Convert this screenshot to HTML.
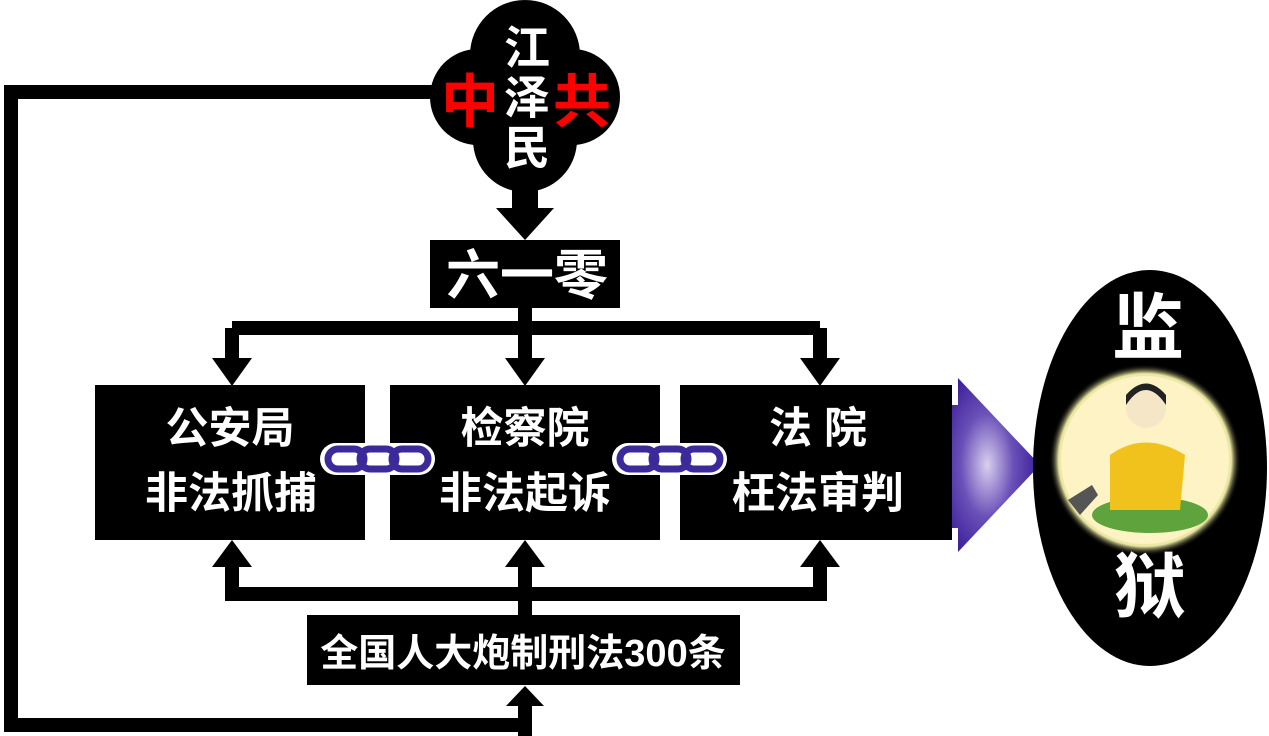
<!DOCTYPE html>
<html><head><meta charset="utf-8"><style>
html,body{margin:0;padding:0;background:#fff;width:1269px;height:736px;overflow:hidden}
svg text{font-family:"Liberation Sans","Noto Sans CJK SC",sans-serif;font-weight:bold}
</style></head><body>
<svg width="1269" height="736" viewBox="0 0 1269 736" xmlns="http://www.w3.org/2000/svg">
<defs>
<radialGradient id="pg" cx="0.4" cy="0.5" r="0.6"><stop offset="0" stop-color="#d8d0ee"/><stop offset="0.5" stop-color="#6a50b8"/><stop offset="1" stop-color="#3a1c98"/></radialGradient>
<radialGradient id="glow" cx="0.5" cy="0.5" r="0.5"><stop offset="0.82" stop-color="#fdf3c4"/><stop offset="0.9" stop-color="#e8e6a0"/><stop offset="1" stop-color="#000" stop-opacity="0"/></radialGradient>
</defs>
<path d="M440 92 H11 V725 H525" fill="none" stroke="#000" stroke-width="14"/>
<rect x="518" y="700" width="14" height="36" fill="#000"/>
<polygon points="506,706 544,706 525,686" fill="#000"/>
<g fill="#000">
<circle cx="525" cy="55" r="55"/><circle cx="478" cy="97" r="48"/><circle cx="572" cy="97" r="48"/><circle cx="525" cy="140" r="52"/><circle cx="525" cy="95" r="62"/>
</g>
<rect x="512" y="180" width="26" height="30" fill="#000"/>
<polygon points="496,208 554,208 525,240" fill="#000"/>
<text x="470" y="122" font-size="58" fill="#f00" text-anchor="middle">中</text>
<text x="582" y="122" font-size="58" fill="#f00" text-anchor="middle">共</text>
<text x="527" y="64" font-size="46" fill="#fff" text-anchor="middle">江</text>
<text x="527" y="114" font-size="46" fill="#fff" text-anchor="middle">泽</text>
<text x="527" y="164" font-size="46" fill="#fff" text-anchor="middle">民</text>
<rect x="430" y="240" width="190" height="68" fill="#000"/>
<text x="527" y="294" font-size="54" fill="#fff" text-anchor="middle">六一零</text>
<path d="M525 308 V328 M232 328 H820 M232 328 V360 M525 328 V360 M820 328 V360" fill="none" stroke="#000" stroke-width="14"/>
<polygon points="212,358 252,358 232,386" fill="#000"/>
<polygon points="505,358 545,358 525,386" fill="#000"/>
<polygon points="800,358 840,358 820,386" fill="#000"/>
<rect x="95" y="385" width="270" height="155" fill="#000"/>
<rect x="390" y="385" width="270" height="155" fill="#000"/>
<rect x="680" y="385" width="272" height="155" fill="#000"/>
<g font-size="43" fill="#fff" text-anchor="middle">
<text x="230" y="443">公安局</text><text x="231" y="508">非法抓捕</text>
<text x="525" y="443">检察院</text><text x="525" y="508">非法起诉</text>
<text x="818" y="443">法  院</text><text x="818" y="508">枉法审判</text>
</g>
<path d="M232 565 V594 H820 V565 M525 565 V615" fill="none" stroke="#000" stroke-width="14"/>
<polygon points="212,567 252,567 232,540" fill="#000"/>
<polygon points="505,567 545,567 525,540" fill="#000"/>
<polygon points="800,567 840,567 820,540" fill="#000"/>
<rect x="307" y="615" width="433" height="70" fill="#000"/>
<text x="523" y="666" font-size="38" fill="#fff" text-anchor="middle">全国人大炮制刑法300条</text>
<g id="ch">
<rect x="320" y="443" width="115" height="32" rx="16" fill="#fff"/>
<g fill="none" stroke="#3d2a9a" stroke-width="7">
<rect x="328" y="449" width="36" height="20" rx="10"/>
<rect x="360" y="449" width="36" height="20" rx="10"/>
<rect x="392" y="449" width="36" height="20" rx="10"/>
</g>
</g>
<use href="#ch" x="292"/>
<polygon points="952,405 958,405 958,378 1040,465 958,552 958,528 952,528" fill="url(#pg)"/>
<ellipse cx="1150" cy="468" rx="117" ry="198" fill="#000"/>
<circle cx="1145" cy="460" r="96" fill="url(#glow)"/>
<circle cx="1145" cy="460" r="84" fill="#fdf3c4"/>
<ellipse cx="1150" cy="515" rx="58" ry="18" fill="#5ea33c"/>
<path d="M1110 455 Q1145 430 1185 455 L1180 510 H1110 Z" fill="#f2c21c"/>
<circle cx="1146" cy="408" r="20" fill="#f5e6c8"/>
<path d="M1126 405 Q1146 375 1166 405 L1166 395 Q1146 372 1126 395 Z" fill="#222"/>
<path d="M1068 500 L1092 485 L1098 495 L1080 515 Z" fill="#555"/>
<text x="1148" y="353" font-size="72" fill="#fff" text-anchor="middle">监</text>
<text x="1150" y="612" font-size="72" fill="#fff" text-anchor="middle">狱</text>
</svg>
</body></html>
